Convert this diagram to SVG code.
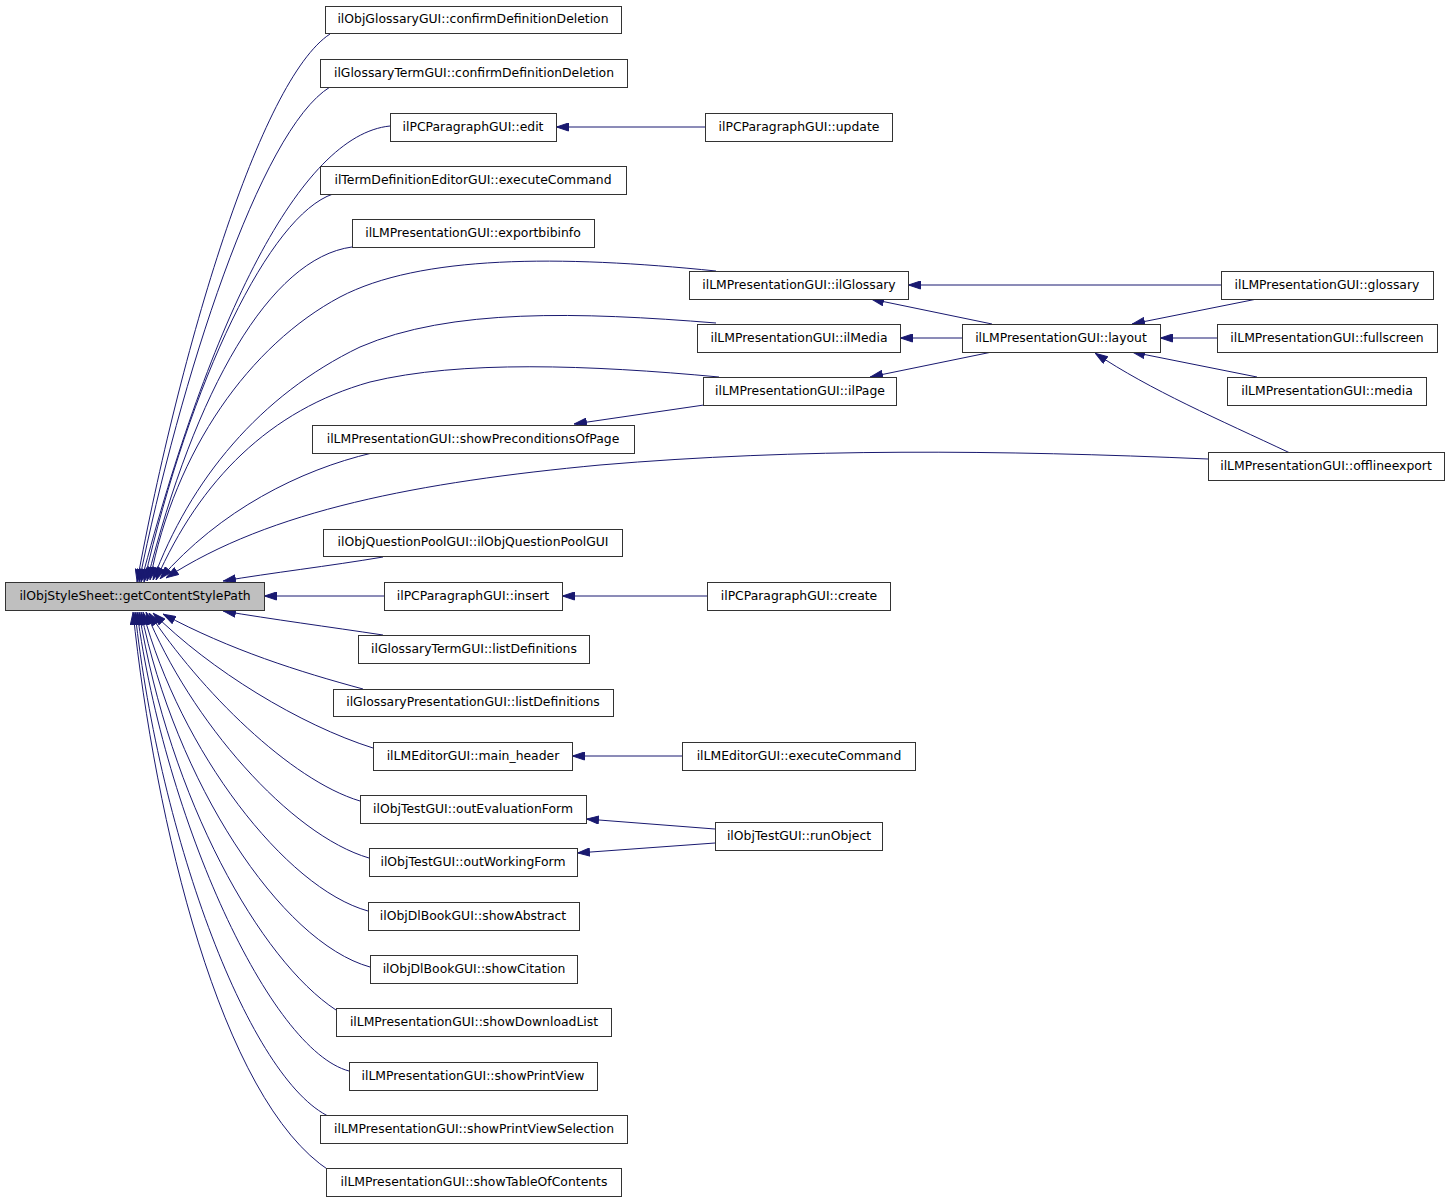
<svg xmlns="http://www.w3.org/2000/svg" width="1451" height="1203" viewBox="0 0 1451 1203">
<style>
.n rect{fill:#fff;stroke:#333;stroke-width:1}
.n.main rect{fill:#bfbfbf}
.n text{font-family:"DejaVu Sans",sans-serif;font-size:12.4px;text-anchor:middle;fill:#000}
.e path{fill:none;stroke:#191970;stroke-width:1;marker-end:url(#arr)}
</style>
<defs>
<marker id="arr" viewBox="0 0 13 9" refX="13" refY="4.5" markerWidth="13" markerHeight="9" markerUnits="userSpaceOnUse" orient="auto">
<path d="M0.5,0.5 L12.5,4.5 L0.5,8.5 z" fill="#191970" stroke="#191970" stroke-width="1"/>
</marker>
</defs>
<rect width="1451" height="1203" fill="#fff"/>
<g id="edges" class="e">
<path d="M330,34 C260,80 180,350 137,582"/>
<path d="M330,87 C260,130 180,380 139,582"/>
<path d="M390,126 C300,135 210,320 141,582"/>
<path d="M333,194 C270,215 190,380 144,582"/>
<path d="M352,247 C270,258 195,390 147,581"/>
<path d="M716,271 C560,255 420,255 340,297 C250,345 175,450 150,580"/>
<path d="M716,323 C580,312 450,308 360,347 C260,395 190,480 153,580"/>
<path d="M719,377 C590,365 460,360 370,382 C270,410 200,480 156,580"/>
<path d="M372,453 C300,470 220,510 160,579"/>
<path d="M1208,459 C1000,450 800,448 600,465 C420,482 270,510 166,578"/>
<path d="M383,557 C330,566 270,573 223,581"/>
<path d="M384,596 L264,596"/>
<path d="M383,635 C330,627 270,619 223,611"/>
<path d="M363,689 C300,672 230,650 163,614"/>
<path d="M373,748 C300,725 210,670 153,613"/>
<path d="M360,801 C290,780 200,690 149,613"/>
<path d="M369,858 C290,835 190,720 146,612"/>
<path d="M368,911 C285,888 180,750 143,612"/>
<path d="M370,967 C280,942 175,780 141,612"/>
<path d="M336,1010 C260,960 170,800 139,612"/>
<path d="M349,1071 C270,1050 165,820 137,612"/>
<path d="M330,1117 C250,1080 160,840 135,612"/>
<path d="M330,1171 C220,1100 155,820 133,612"/>
<path d="M705,127 L556,127"/>
<path d="M1221,285 L908,285"/>
<path d="M992,324 L871,299"/>
<path d="M962,338 L900,338"/>
<path d="M992,352 L870,377"/>
<path d="M1257,299 L1132,324"/>
<path d="M1217,338 L1160,338"/>
<path d="M1257,377 L1132,352"/>
<path d="M1290,453 C1220,420 1150,390 1095,353"/>
<path d="M704,405 L574,424"/>
<path d="M707,596 L562,596"/>
<path d="M682,756 L572,756"/>
<path d="M715,829 L586,819"/>
<path d="M715,843 L577,853"/>
</g>
<g id="n0" class="n main"><rect x="5.5" y="582.5" width="259" height="28"/><text x="135" y="599.5">ilObjStyleSheet::getContentStylePath</text></g>
<g id="n1" class="n"><rect x="325.5" y="6.5" width="296" height="27"/><text x="473" y="23">ilObjGlossaryGUI::confirmDefinitionDeletion</text></g>
<g id="n2" class="n"><rect x="320.5" y="59.5" width="307" height="28"/><text x="474" y="76.5">ilGlossaryTermGUI::confirmDefinitionDeletion</text></g>
<g id="n3" class="n"><rect x="390.5" y="113.5" width="166" height="28"/><text x="473" y="130.5">ilPCParagraphGUI::edit</text></g>
<g id="n4" class="n"><rect x="705.5" y="113.5" width="187" height="28"/><text x="799" y="130.5">ilPCParagraphGUI::update</text></g>
<g id="n5" class="n"><rect x="320.5" y="166.5" width="306" height="28"/><text x="473" y="183.5">ilTermDefinitionEditorGUI::executeCommand</text></g>
<g id="n6" class="n"><rect x="352.5" y="219.5" width="242" height="28"/><text x="473" y="236.5">ilLMPresentationGUI::exportbibinfo</text></g>
<g id="n7" class="n"><rect x="689.5" y="271.5" width="219" height="28"/><text x="799" y="288.5">ilLMPresentationGUI::ilGlossary</text></g>
<g id="n8" class="n"><rect x="1221.5" y="271.5" width="212" height="28"/><text x="1327" y="288.5">ilLMPresentationGUI::glossary</text></g>
<g id="n9" class="n"><rect x="697.5" y="324.5" width="203" height="28"/><text x="799" y="341.5">ilLMPresentationGUI::ilMedia</text></g>
<g id="n10" class="n"><rect x="962.5" y="324.5" width="198" height="28"/><text x="1061" y="341.5">ilLMPresentationGUI::layout</text></g>
<g id="n11" class="n"><rect x="1217.5" y="324.5" width="220" height="28"/><text x="1327" y="341.5">ilLMPresentationGUI::fullscreen</text></g>
<g id="n12" class="n"><rect x="703.5" y="377.5" width="193" height="28"/><text x="800" y="394.5">ilLMPresentationGUI::ilPage</text></g>
<g id="n13" class="n"><rect x="1227.5" y="377.5" width="199" height="28"/><text x="1327" y="394.5">ilLMPresentationGUI::media</text></g>
<g id="n14" class="n"><rect x="312.5" y="425.5" width="322" height="28"/><text x="473" y="442.5">ilLMPresentationGUI::showPreconditionsOfPage</text></g>
<g id="n15" class="n"><rect x="1208.5" y="452.5" width="236" height="28"/><text x="1326" y="469.5">ilLMPresentationGUI::offlineexport</text></g>
<g id="n16" class="n"><rect x="323.5" y="529.5" width="299" height="27"/><text x="473" y="546">ilObjQuestionPoolGUI::ilObjQuestionPoolGUI</text></g>
<g id="n17" class="n"><rect x="384.5" y="582.5" width="178" height="28"/><text x="473" y="599.5">ilPCParagraphGUI::insert</text></g>
<g id="n18" class="n"><rect x="707.5" y="582.5" width="183" height="28"/><text x="799" y="599.5">ilPCParagraphGUI::create</text></g>
<g id="n19" class="n"><rect x="358.5" y="635.5" width="231" height="28"/><text x="474" y="652.5">ilGlossaryTermGUI::listDefinitions</text></g>
<g id="n20" class="n"><rect x="333.5" y="689.5" width="280" height="27"/><text x="473" y="706">ilGlossaryPresentationGUI::listDefinitions</text></g>
<g id="n21" class="n"><rect x="373.5" y="742.5" width="199" height="28"/><text x="473" y="759.5">ilLMEditorGUI::main_header</text></g>
<g id="n22" class="n"><rect x="682.5" y="742.5" width="233" height="28"/><text x="799" y="759.5">ilLMEditorGUI::executeCommand</text></g>
<g id="n23" class="n"><rect x="360.5" y="795.5" width="226" height="28"/><text x="473" y="812.5">ilObjTestGUI::outEvaluationForm</text></g>
<g id="n24" class="n"><rect x="715.5" y="822.5" width="167" height="28"/><text x="799" y="839.5">ilObjTestGUI::runObject</text></g>
<g id="n25" class="n"><rect x="369.5" y="848.5" width="208" height="28"/><text x="473" y="865.5">ilObjTestGUI::outWorkingForm</text></g>
<g id="n26" class="n"><rect x="368.5" y="902.5" width="211" height="28"/><text x="473" y="919.5">ilObjDlBookGUI::showAbstract</text></g>
<g id="n27" class="n"><rect x="370.5" y="955.5" width="207" height="28"/><text x="474" y="972.5">ilObjDlBookGUI::showCitation</text></g>
<g id="n28" class="n"><rect x="336.5" y="1008.5" width="275" height="28"/><text x="474" y="1025.5">ilLMPresentationGUI::showDownloadList</text></g>
<g id="n29" class="n"><rect x="349.5" y="1062.5" width="248" height="28"/><text x="473" y="1079.5">ilLMPresentationGUI::showPrintView</text></g>
<g id="n30" class="n"><rect x="320.5" y="1115.5" width="307" height="28"/><text x="474" y="1132.5">ilLMPresentationGUI::showPrintViewSelection</text></g>
<g id="n31" class="n"><rect x="326.5" y="1168.5" width="295" height="28"/><text x="474" y="1185.5">ilLMPresentationGUI::showTableOfContents</text></g>
</svg>
